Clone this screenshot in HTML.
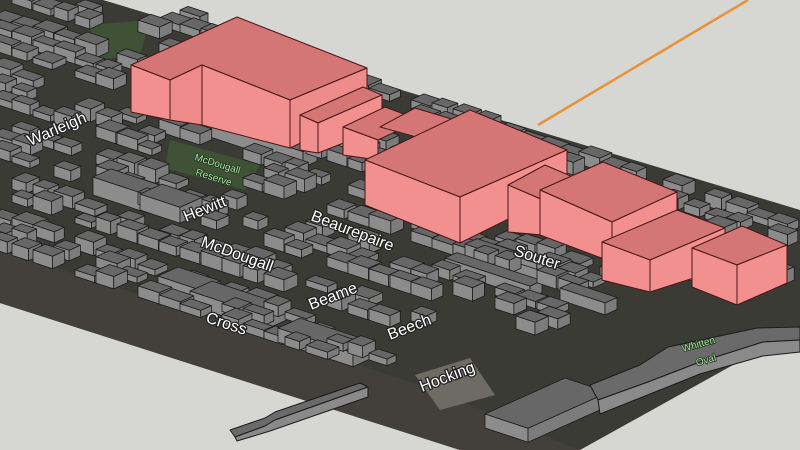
<!DOCTYPE html>
<html><head><meta charset="utf-8"><style>
html,body{margin:0;padding:0;background:#d6d6d2;}
svg{display:block}
text{font-family:"Liberation Sans",sans-serif;}
.lbl{fill:#fff;font-size:16px;stroke:#222;stroke-width:2.5px;paint-order:stroke;}
.grn{fill:#a8e6a0;font-size:10px;stroke:#1f2a1c;stroke-width:1.5px;paint-order:stroke;}
</style></head><body>
<svg id="s" width="800" height="450" viewBox="0 0 800 450" xmlns="http://www.w3.org/2000/svg">
<rect width="800" height="450" fill="#d6d6d2"/>
<polygon points="0,0 103,0 800,210 800,333 760,350 580,450 460,450 0,303" fill="#3b3b36"/>
<polygon points="0,250 420,385 580,450 460,450 0,303" fill="#433f3a"/>
<polygon points="170,140 260,165 245,190 165,168" fill="#3f5236"/>
<polygon points="90,25 150,20 140,55 95,60" fill="#3f5236"/>
<polygon points="415,375 470,358 495,395 440,410" fill="#6e6a64"/>
<line x1="538" y1="125" x2="748" y2="0" stroke="#e8923a" stroke-width="2.5"/>
<g id="gray"></g>
<g id="pink" stroke="#4a1515" stroke-width="1" stroke-linejoin="round">
<polygon points="131,65 237,17 367,68 290,100 202,65 170,80" fill="#d47676"/>
<polygon points="131,65 170,80 170,120 131,112" fill="#f29090"/>
<polygon points="170,80 202,65 202,125 170,120" fill="#ee8a8a"/>
<polygon points="202,65 290,100 290,148 202,125" fill="#f29090"/>
<polygon points="290,100 367,68 367,112 290,148" fill="#ee8c8c"/>
<polygon points="300,115 363,87 382,95 318,123" fill="#d47676"/>
<polygon points="300,115 318,123 318,153 300,150" fill="#f29090"/>
<polygon points="318,123 382,95 382,128 318,153" fill="#f29090"/>
<polygon points="343,127 385,107 420,120 378,140" fill="#d47676"/>
<polygon points="343,127 378,140 378,160 343,155" fill="#f29090"/>
<polygon points="380,127 415,108 455,120 420,138" fill="#d47676"/>
<polygon points="365,160 470,110 567,150 460,197" fill="#d47676"/>
<polygon points="365,160 460,197 460,243 365,205" fill="#f29090"/>
<polygon points="460,197 567,150 567,190 460,243" fill="#f29090"/>
<polygon points="508,185 545,165 580,180 543,200" fill="#d47676"/>
<polygon points="508,185 543,200 543,235 508,232" fill="#f29090"/>
<polygon points="540,190 603,162 677,192 612,222" fill="#d47676"/>
<polygon points="540,190 612,222 612,262 540,235" fill="#f29090"/>
<polygon points="612,222 677,192 677,232 612,262" fill="#f29090"/>
<polygon points="602,242 677,210 725,228 650,260" fill="#d47676"/>
<polygon points="602,242 650,260 650,292 602,280" fill="#f29090"/>
<polygon points="650,260 725,228 725,268 650,292" fill="#f29090"/>
<polygon points="692,248 742,226 787,245 737,265" fill="#d47676"/>
<polygon points="692,248 737,265 737,305 692,287" fill="#f29090"/>
<polygon points="737,265 787,245 787,283 737,305" fill="#f29090"/>
</g>
<g stroke="#1a1a1a" stroke-width="1" stroke-linejoin="round">
<polygon points="590,385 640,365 668,347 757,328 800,327 800,340 763,342 700,362 648,382 598,400" fill="#6a6a6a"/>
<polygon points="598,400 648,382 700,362 763,342 800,340 800,352 763,356 700,374 650,394 600,414" fill="#8a8a8a"/>
<polygon points="230,430 265,418 275,412 360,383 368,387 275,420 265,426 235,437" fill="#6a6a6a"/>
<polygon points="235,437 265,426 275,420 368,387 368,397 270,431 237,441" fill="#8a8a8a"/>
</g>
<g>
<text class="lbl" transform="translate(30,146) rotate(-23)">Warleigh</text>
<text class="lbl" transform="translate(186,222) rotate(-22)">Hewitt</text>
<text class="lbl" transform="translate(310,220) rotate(21)">Beaurepaire</text>
<text class="lbl" transform="translate(200,246) rotate(20)">McDougall</text>
<text class="lbl" transform="translate(311,310) rotate(-21)">Beame</text>
<text class="lbl" transform="translate(205,322) rotate(18)">Cross</text>
<text class="lbl" transform="translate(390,340) rotate(-21)">Beech</text>
<text class="lbl" transform="translate(513,255) rotate(18)">Souter</text>
<text class="lbl" transform="translate(422,392) rotate(-21)">Hocking</text>
<text class="grn" transform="translate(194,160) rotate(17)">McDougall</text>
<text class="grn" transform="translate(195,175) rotate(17)">Reserve</text>
<text class="grn" transform="translate(683,352) rotate(-16)">Whitten</text>
<text class="grn" transform="translate(697,366) rotate(-16)">Oval</text>
</g>
</svg>
<script>
(function(){
var NS="http://www.w3.org/2000/svg";
var g=document.getElementById("gray");
function S(a,b){return [a+b,150+0.33*a-0.45*b];}
function inv(x,y){var b=(0.33*x-y+150)/0.78;return [x-b,b];}
var boxes=[];
function box(a,b,L,D,H){boxes.push([a,b,L,D,H]);}
function boxS(x,y,L,D,H){var r=inv(x,y);box(r[0],r[1],L,D,H);}
var seed=7;function rnd(){seed=(seed*16807)%2147483647;return seed/2147483647;}
var ground=[[0,0],[103,0],[800,210],[800,333],[760,350],[580,450],[460,450],[0,303]];
function inPoly(x,y,p){var c=false;for(var i=0,j=p.length-1;i<p.length;j=i++){if(((p[i][1]>y)!=(p[j][1]>y))&&(x<(p[j][0]-p[i][0])*(y-p[i][1])/(p[j][1]-p[i][1])+p[i][0]))c=!c;}return c;}
var streets=[-85,-20,40,100,170];
for(var b=-130;b<232;b+=17){
  var skip=false;for(var k=0;k<streets.length;k++){if(Math.abs(b-streets[k])<9)skip=true;}
  if(skip)continue;
  for(var a=-b-30;a<830-b;a+=21){
    if(rnd()<0.3)continue;
    var c=S(a+8,b+6),x=c[0],y=c[1];
    if(!inPoly(x,y,ground))continue;
    if(y>0.32*x+250)continue;
    if(Math.abs(x-215)<40&&Math.abs(y-170)<20)continue;
    if(x>395&&x<600&&y>345)continue;
    if(x>560&&y>290)continue;
    if(x>380&&x<560&&y>300&&y<345&&rnd()<0.5)continue;
    if(x>100&&x<150&&y<60)continue;
    box(a,b,14+rnd()*8,9+rnd()*5,6+rnd()*8);
  }
}
boxS(183,128,120,14,16);
boxS(93,195,55,18,18);boxS(140,210,40,22,16);
boxS(158,290,42,20,14);boxS(190,305,75,22,14);
boxS(278,342,75,22,14);
boxS(445,270,85,12,12);boxS(465,256,80,12,12);
boxS(485,428,43,80,14);
boxS(560,300,45,12,12);
boxS(180,20,20,8,10);
boxes.sort(function(p,q){return (p[0]*0.5-p[1])-(q[0]*0.5-q[1]);});
function poly(pts,f){var e=document.createElementNS(NS,"polygon");e.setAttribute("points",pts.map(function(p){return p[0].toFixed(1)+","+p[1].toFixed(1);}).join(" "));e.setAttribute("fill",f);e.setAttribute("stroke","#1c1c1c");e.setAttribute("stroke-width","0.8");e.setAttribute("stroke-linejoin","round");g.appendChild(e);}
boxes.forEach(function(bx){
  var a=bx[0],b=bx[1],L=bx[2],D=bx[3],H=bx[4];
  var p0=S(a,b),p1=S(a+L,b),p2=S(a+L,b+D),p3=S(a,b+D);
  function t(p){return [p[0],p[1]-H];}
  poly([p0,p1,t(p1),t(p0)],"#8c8c8c");
  poly([p1,p2,t(p2),t(p1)],"#7c7c7c");
  poly([t(p0),t(p1),t(p2),t(p3)],"#676767");
});
})();
</script>
</body></html>
